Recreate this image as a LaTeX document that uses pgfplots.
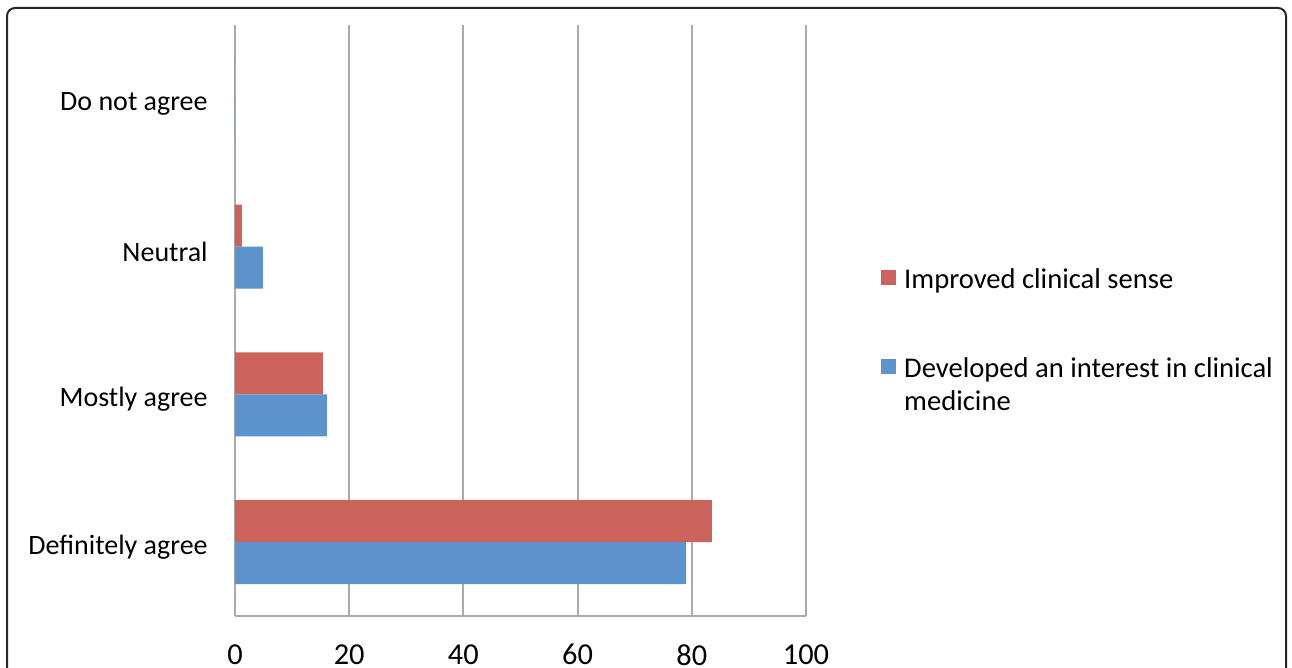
\documentclass[border=0pt]{standalone}
\usepackage{pgfplots}
\pgfplotsset{compat=1.18}
\usepackage{fontspec}
\setmainfont{Carlito}
\definecolor{barred}{RGB}{203,98,92}
\definecolor{barblue}{RGB}{92,147,204}
\definecolor{gridgray}{RGB}{170,170,170}
\begin{document}
\fontsize{14pt}{16.5pt}\selectfont
\begin{tikzpicture}[x=1pt,y=1pt]
\useasboundingbox (0,0) rectangle (646,334);
\draw[rounded corners=4pt, line width=1pt, black!85] (3.5,-6) -- (3.5,330) -- (643,330) -- (643,-6);
\begin{axis}[
  at={(117.5pt,26pt)}, anchor=south west,
  scale only axis, width=285.5pt, height=295.5pt,
  xbar, bar width=21pt,
  xmin=0, xmax=100, ymin=-0.5, ymax=3.5,
  xtick={0,20,40,60,80,100},
  ytick={0,1,2,3},
  yticklabels={Definitely agree, Mostly agree, Neutral, Do not agree},
  axis x line*=bottom, axis y line*=left,
  axis line style={gridgray, line width=1pt, -},
  major tick length=0pt,
  xmajorgrids, grid style={gridgray, line width=1pt},
  /pgf/number format/assume math mode=true,
  tick label style={font=\fontsize{14pt}{16.5pt}\selectfont, inner sep=0pt},
  x tick label style={anchor=north, yshift=-14pt, font=\fontsize{15.2pt}{17pt}\selectfont},
  y tick label style={anchor=east, xshift=-13.5pt, yshift=-2.5pt},
  legend style={at={(1.131,0.589)}, anchor=north west, draw=none, fill=none,
    inner sep=0pt, row sep=31pt, font=\fontsize{14.3pt}{16.5pt}\selectfont,
    nodes={inner sep=0pt, anchor=base west}},
  legend cell align=left,
  /tikz/every odd column/.append style={column sep=4pt},
  legend image code/.code={\fill[#1] (0pt,1.5pt) rectangle (7.5pt,9pt);},
]
\addplot[fill=barred, draw=none, bar shift=10.5pt] coordinates {(83.5,0) (15.4,1) (1.2,2) (0,3)};
\addlegendentry{Improved clinical sense}
\addplot[fill=barblue, draw=none, bar shift=-10.5pt] coordinates {(79.0,0) (16.1,1) (4.9,2) (0,3)};
\addlegendentry{\begin{tabular}[t]{@{}l@{}}Developed an interest in clinical\\medicine\end{tabular}}
\end{axis}
\end{tikzpicture}
\end{document}
